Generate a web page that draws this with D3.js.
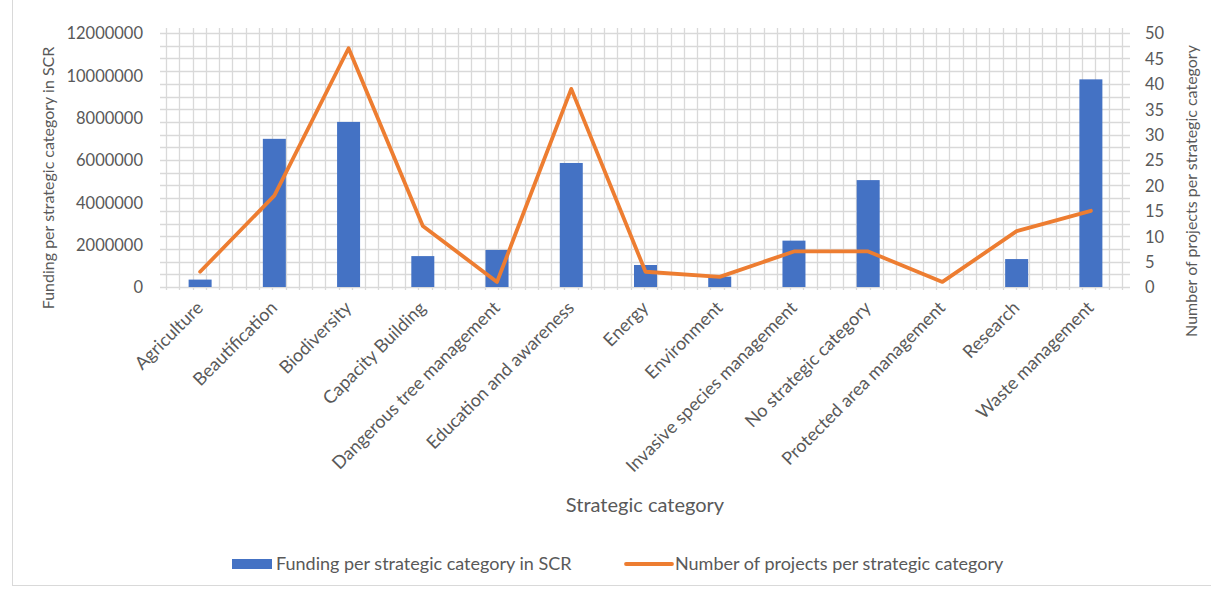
<!DOCTYPE html>
<html><head><meta charset="utf-8">
<script src="https://cdn.jsdelivr.net/npm/d3@7"></script>
<style>
body{margin:0;background:#fff;}
text{font-family:Lato, "Open Sans", sans-serif;fill:#595959;}
</style></head><body>
<svg id="chart" width="1211" height="589"></svg>
<script>
const categories = ["Agriculture","Beautification","Biodiversity","Capacity Building","Dangerous tree management","Education and awareness","Energy","Environment","Invasive species management","No strategic category","Protected area management","Research","Waste management"];
const funding = [350000,7000000,7800000,1460000,1750000,5860000,1040000,490000,2190000,5050000,0,1320000,9810000];
const projects = [3,18,47,12,1,39,3,2,7,7,1,11,15];
const leftTicks = [0,2000000,4000000,6000000,8000000,10000000,12000000];
const rightTicks = [0,5,10,15,20,25,30,35,40,45,50];

const svg = d3.select("#chart");
const W=1211,H=589;
const L=163,R=1128,T=33,B=287;

svg.append("rect").attr("x",12.5).attr("y",-2).attr("width",W).attr("height",H+0.5-2).attr("fill","none").attr("stroke","#d9d9d9");

const x = d3.scaleBand().domain(categories).range([L,R]).padding(0);
const yL = d3.scaleLinear().domain([0,12000000]).range([B,T]);
const yR = d3.scaleLinear().domain([0,50]).range([B,T]);

// grid
const g = svg.append("g");
const hLines = d3.range(0,50.001,2.5);
g.selectAll("line.h").data(hLines).join("line")
 .attr("x1",L-3).attr("x2",R+2).attr("y1",d=>Math.round(yR(d))+0.5).attr("y2",d=>Math.round(yR(d))+0.5)
 .attr("stroke","#d9d9d9").attr("stroke-width",1.3);
const gx = d3.scaleLinear().domain([0,72]).range([L+3,R-6]);
g.selectAll("line.v").data(d3.range(0,73)).join("line")
 .attr("x1",d=>Math.round(gx(d))+0.5).attr("x2",d=>Math.round(gx(d))+0.5).attr("y1",T-5).attr("y2",B+3)
 .attr("stroke","#d9d9d9").attr("stroke-width",1.3);

// bars
const bw = 23;
svg.append("g").selectAll("rect").data(categories).join("rect")
 .attr("x",(d,i)=>x(d)+x.bandwidth()/2-bw/2).attr("width",bw)
 .attr("y",(d,i)=>yL(funding[i])).attr("height",(d,i)=>B-yL(funding[i]))
 .attr("fill","#4472c4");

// line
const line = d3.line().x((d,i)=>x(categories[i])+x.bandwidth()/2).y(d=>yR(d));
svg.append("path").datum(projects).attr("d",line).attr("fill","none")
 .attr("stroke","#ed7d31").attr("stroke-width",3.8).attr("stroke-linejoin","round").attr("stroke-linecap","round");

// left axis
const la = svg.append("g").attr("transform",`translate(${L-20},0)`)
 .call(d3.axisLeft(yL).tickValues(leftTicks).tickSize(0).tickPadding(0).tickFormat(d3.format("d")));
la.select(".domain").remove();
la.selectAll("text").style("font-size","16.5px").attr("fill","#595959").attr("dy","0.36em");

// right axis
const ra = svg.append("g").attr("transform",`translate(${R+17},0)`)
 .call(d3.axisRight(yR).tickValues(rightTicks).tickSize(0).tickPadding(0));
ra.select(".domain").remove();
ra.selectAll("text").style("font-size","16.5px").attr("fill","#595959").attr("dy","0.36em");

// x axis
const xa = svg.append("g").attr("transform",`translate(0,${B})`)
 .call(d3.axisBottom(x).tickSize(0).tickPadding(0));
xa.select(".domain").attr("stroke","#d9d9d9");
xa.selectAll(".tick text").style("font-size","18px").attr("fill","#595959")
 .attr("text-anchor","end").attr("dy","0").attr("x",0).attr("y",0)
 .attr("transform","translate(4,22) rotate(-45)");

// titles
svg.append("text").attr("transform","translate(54,178) rotate(-90)").attr("text-anchor","middle")
 .style("font-size","16px").text("Funding per strategic category in SCR");
svg.append("text").attr("transform","translate(1197,191) rotate(-90)").attr("text-anchor","middle")
 .style("font-size","16px").text("Number of projects per strategic category");
svg.append("text").attr("x",645).attr("y",512).attr("text-anchor","middle")
 .style("font-size","20px").text("Strategic category");

// legend
const lg = svg.append("g");
lg.append("rect").attr("x",232).attr("y",559).attr("width",40).attr("height",10).attr("fill","#4472c4");
lg.append("text").attr("x",276).attr("y",570).style("font-size","18px").text("Funding per strategic category in SCR");
lg.append("line").attr("x1",626).attr("x2",672).attr("y1",564).attr("y2",564).attr("stroke","#ed7d31").attr("stroke-width",3.8).attr("stroke-linecap","round");
lg.append("text").attr("x",675).attr("y",570).style("font-size","18px").text("Number of projects per strategic category");
</script></body></html>
